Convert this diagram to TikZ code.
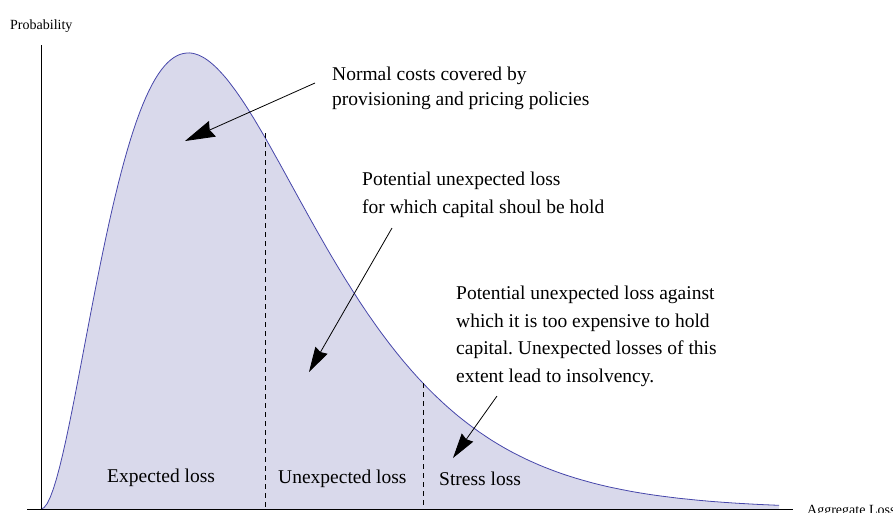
\documentclass[tikz,border=0pt]{standalone}
\usepackage{fontspec}
\setmainfont{Liberation Serif}
\usetikzlibrary{arrows.meta}
\definecolor{areafill}{RGB}{217,217,235}
\definecolor{curveblue}{RGB}{70,70,170}
\tikzset{
  maintext/.style={font=\fontsize{19.5}{23}\selectfont, inner sep=0pt, anchor=base west},
  smalltext/.style={font=\fontsize{14}{16}\selectfont, inner sep=0pt, anchor=base west},
  axis/.style={line width=0.8pt, black},
  divider/.style={line width=0.8pt, black, dash pattern=on 5pt off 4pt},
  pointer/.style={line width=0.8pt, black, -{Stealth[length=25pt,width=14pt,inset=2pt]}},
  bigpointer/.style={line width=0.8pt, black, -{Stealth[length=30pt,width=17pt,inset=3pt]}}
}
\begin{document}
\begin{tikzpicture}[x=1pt,y=-1pt]
\clip (0,0) rectangle (893,512);
\useasboundingbox (0,0) rectangle (893,512);
% filled density
\fill[areafill] (41,509) -- plot[domain=41:779,samples=240] (\x,{509-456*(((\x-41)/147)*exp(1-(\x-41)/147))^2}) -- (779,509) -- cycle;
\draw[curveblue, line width=0.8pt] plot[domain=41:779,samples=240] (\x,{509-456*(((\x-41)/147)*exp(1-(\x-41)/147))^2});
% axes
\coordinate (ytop) at (41,45);
\coordinate (ybot) at (41,510);
\coordinate (xl) at (27,509);
\coordinate (xr) at (793,509);
\draw[axis] (ytop) -- (ybot);
\draw[axis] (xl) -- (xr);
\node[smalltext] (ylab) at (10,29) {Probability};
\node[smalltext] (xlab) at (807,514) {Aggregate Loss};
% dividers
\coordinate (d1t) at (265,133);
\coordinate (d1b) at (265,509);
\coordinate (d2t) at (423,383);
\coordinate (d2b) at (423,509);
\draw[divider] (d1t) -- (d1b);
\draw[divider] (d2t) -- (d2b);
% region labels
\node[maintext] (el) at (107,482) {Expected loss};
\node[maintext] (ul) at (278,483) {Unexpected loss};
\node[maintext] (sl) at (439,485) {Stress loss};
% annotation 1
\node[maintext] (a1) at (332,80) {Normal costs covered by};
\node[maintext] (a2) at (332,105) {provisioning and pricing policies};
% annotation 2
\node[maintext] (b1) at (362,185) {Potential unexpected loss};
\node[maintext] (b2) at (362,213) {for which capital shoul be hold};
% annotation 3
\node[maintext] (c1) at (456,299) {Potential unexpected loss against};
\node[maintext] (c2) at (456,327) {which it is too expensive to hold};
\node[maintext] (c3) at (456,354) {capital.\ Unexpected losses of this};
\node[maintext] (c4) at (456,382) {extent lead to insolvency.};
% arrows
\coordinate (p1s) at (315,83);
\coordinate (p1e) at (185,141);
\coordinate (p2s) at (392,228);
\coordinate (p2e) at (309,372);
\coordinate (p3s) at (497,396);
\coordinate (p3e) at (453,458);
\draw[bigpointer] (p1s) -- (p1e);
\draw[pointer] (p2s) -- (p2e);
\draw[pointer] (p3s) -- (p3e);
\end{tikzpicture}
\end{document}
